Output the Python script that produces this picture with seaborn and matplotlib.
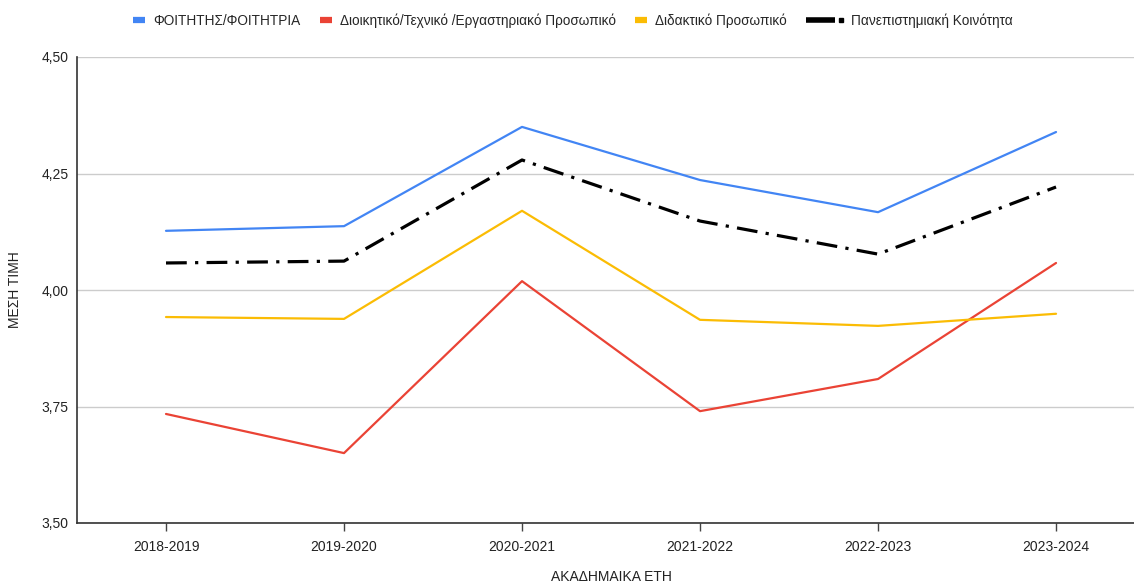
import matplotlib
matplotlib.use('Agg')
import matplotlib.pyplot as plt
from matplotlib.lines import Line2D
from matplotlib.legend_handler import HandlerBase
import seaborn as sns
import pandas as pd

# ── data ──────────────────────────────────────────────
years = ['2018-2019', '2019-2020', '2020-2021', '2021-2022', '2022-2023', '2023-2024']
students = [4.127, 4.137, 4.350, 4.236, 4.167, 4.339]
admin_staff = [3.734, 3.650, 4.019, 3.740, 3.809, 4.058]
teaching_staff = [3.942, 3.938, 4.170, 3.936, 3.923, 3.949]
community = [4.058, 4.062, 4.279, 4.148, 4.077, 4.221]

series_names = ['ΦΟΙΤΗΤΗΣ/ΦΟΙΤΗΤΡΙΑ',
                'Διοικητικό/Τεχνικό /Εργαστηριακό Προσωπικό',
                'Διδακτικό Προσωπικό',
                'Πανεπιστημιακή Κοινότητα']
y_ticks = [3.50, 3.75, 4.00, 4.25, 4.50]
y_tick_labels = ['3,50', '3,75', '4,00', '4,25', '4,50']

COLORS = ['#4285F4', '#EA4335', '#FBBC04', '#000000']


class KeyHandler(HandlerBase):
    """Legend key: short square bar, or for the dash-dot series
    a longer bar followed by a small square."""
    def create_artists(self, legend, orig_handle, xdescent, ydescent,
                       width, height, fontsize, trans):
        y = height / 2 - ydescent
        x0 = -xdescent
        color = orig_handle.get_color()
        if orig_handle.get_linestyle() == '-.':
            bar = Line2D([x0, x0 + width * 29 / 37], [y, y], color=color, lw=4,
                         solid_capstyle='butt', transform=trans)
            dot = Line2D([x0 + width * 35 / 37], [y], marker='s', markersize=3,
                         color=color, lw=0, transform=trans)
            return [bar, dot]
        bar = Line2D([x0, x0 + width], [y, y], color=color, lw=4.5,
                     solid_capstyle='butt', transform=trans)
        return [bar]


sns.set_style('white')
plt.rcParams['font.family'] = ['Liberation Sans', 'DejaVu Sans']

fig = plt.figure(figsize=(11.34, 5.83), dpi=100)
ax = fig.add_axes([77 / 1134, 1 - 523 / 583, 1 - 77 / 1134, (523 - 57) / 583])

values = [students, admin_staff, teaching_staff, community]
df = pd.DataFrame({'year': years * 4,
                   'value': sum(values, []),
                   'series': [n for n in series_names for _ in years]})

for i, name in enumerate(series_names):
    sub = df[df['series'] == name]
    if i == 3:
        sns.lineplot(data=sub, x='year', y='value', ax=ax, color=COLORS[i],
                     linewidth=2.3, sort=False, legend=False)
        ax.lines[-1].set_dashes((6.5, 2.6, 1, 2.6))
    else:
        sns.lineplot(data=sub, x='year', y='value', ax=ax, color=COLORS[i],
                     linewidth=1.6, sort=False, legend=False)

ax.set_xlim(-0.5, 5.438)
ax.set_ylim(3.5, 4.5)
ax.set_yticks(y_ticks)
ax.set_yticklabels(y_tick_labels)
ax.yaxis.grid(True, color='#cccccc', linewidth=1)
ax.xaxis.grid(False)
ax.tick_params(axis='y', length=0, labelsize=10, colors='#222222', pad=6)
ax.tick_params(axis='x', length=6, width=1, direction='out', bottom=True,
               color='#444444', labelsize=10, labelcolor='#222222', pad=6)

for side in ['top', 'right']:
    ax.spines[side].set_visible(False)
for side in ['left', 'bottom']:
    ax.spines[side].set_color('#333333')
    ax.spines[side].set_linewidth(1.2)

ax.set_xlabel('ΑΚΑΔΗΜΑΙΚΑ ΕΤΗ', fontsize=10, color='#222222')
ax.set_ylabel('ΜΕΣΗ ΤΙΜΗ', fontsize=10, color='#222222')
ax.xaxis.set_label_coords((611 - 77) / 1057, (523 - 577) / 466)
ax.yaxis.set_label_coords((15 - 77) / 1057, 0.5)
ax.xaxis.label.set_va('center')
ax.yaxis.label.set_va('center')

# legend: the three solid series, then the dash-dot series with its longer key
handles = [Line2D([0], [0], color=c, ls='-.' if i == 3 else '-')
           for i, c in enumerate(COLORS)]
leg_y = 1 - 21 / 583
leg_kw = dict(frameon=False, fontsize=9.8, handletextpad=0.6, borderpad=0,
              borderaxespad=0, handler_map={Line2D: KeyHandler()})
leg1 = fig.legend(handles[:3], series_names[:3], loc='center right',
                  bbox_to_anchor=(787 / 1134, leg_y), ncol=3, handlelength=0.88,
                  columnspacing=1.4, **leg_kw)
fig.legend(handles[3:], series_names[3:], loc='center left',
           bbox_to_anchor=(806 / 1134, leg_y), ncol=1, handlelength=2.72, **leg_kw)

fig.savefig('out.png', dpi=100)
